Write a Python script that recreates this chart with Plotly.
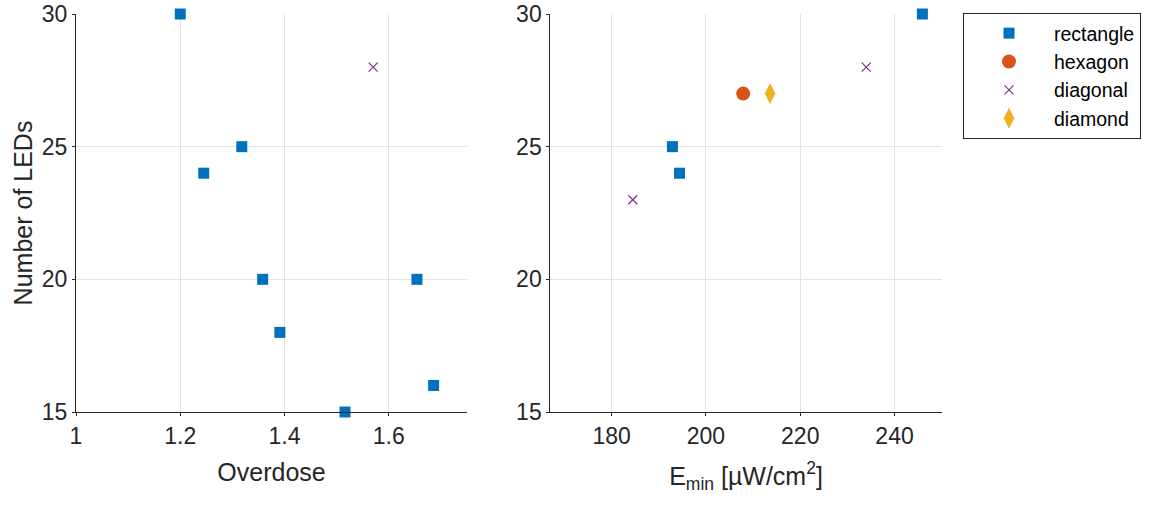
import plotly.graph_objects as go

# ---- data ----
rect_overdose = [1.200, 1.245, 1.318, 1.358, 1.391, 1.516, 1.654, 1.686]
rect_leds_left = [30, 24, 25, 20, 18, 15, 20, 16]
diag_overdose = [1.570]
diag_leds_left = [28]

rect_emin = [192.9, 194.4, 245.9]
rect_leds_right = [25, 24, 30]
hex_emin = [207.9]
hex_leds = [27]
diag_emin = [184.5, 234.0]
diag_leds_right = [23, 28]
diam_emin = [213.6]
diam_leds = [27]

x1_ticks = [1, 1.2, 1.4, 1.6]
x2_ticks = [180, 200, 220, 240]
y_ticks = [15, 20, 25, 30]

C_RECT = "#0072BD"
C_HEX = "#D95319"
C_DIAG = "#7E2F8E"
C_DIAM = "#EDB120"

FONT = "Liberation Sans, Arial, Helvetica, sans-serif"
TXT = "#262626"

fig = go.Figure()

sq = dict(symbol="square", size=11, color=C_RECT)
xm = dict(symbol="x-thin-open", size=9, color=C_DIAG, line=dict(width=1.2, color=C_DIAG))

fig.add_trace(go.Scatter(x=rect_overdose, y=rect_leds_left, mode="markers", marker=sq,
                         showlegend=False, xaxis="x", yaxis="y", cliponaxis=False))
fig.add_trace(go.Scatter(x=diag_overdose, y=diag_leds_left, mode="markers", marker=xm,
                         showlegend=False, xaxis="x", yaxis="y", cliponaxis=False))

fig.add_trace(go.Scatter(x=rect_emin, y=rect_leds_right, mode="markers", marker=sq,
                         name="rectangle", xaxis="x2", yaxis="y2", cliponaxis=False))
fig.add_trace(go.Scatter(x=hex_emin, y=hex_leds, mode="markers",
                         marker=dict(symbol="circle", size=14, color=C_HEX),
                         name="hexagon", xaxis="x2", yaxis="y2", cliponaxis=False))
fig.add_trace(go.Scatter(x=diag_emin, y=diag_leds_right, mode="markers", marker=xm,
                         name="diagonal", xaxis="x2", yaxis="y2", cliponaxis=False))
fig.add_trace(go.Scatter(x=diam_emin, y=diam_leds, mode="markers",
                         marker=dict(symbol="diamond-tall", size=15, color=C_DIAM),
                         name="diamond", xaxis="x2", yaxis="y2", cliponaxis=False))

W, H = 1153, 506
ytop = 1 - 14 / H
ybot = 1 - 412 / H

axis_common = dict(
    showgrid=True, gridcolor="#e3e3e3", gridwidth=1,
    showline=True, linecolor=TXT, linewidth=1,
    ticks="outside", ticklen=3, tickcolor=TXT,
    tickfont=dict(family=FONT, size=23, color=TXT),
    zeroline=False, mirror=False, automargin=False,
)

fig.update_layout(
    width=W, height=H,
    margin=dict(l=0, r=0, t=0, b=0),
    paper_bgcolor="white", plot_bgcolor="white",
    font=dict(family=FONT, color=TXT),
    xaxis=dict(domain=[76 / W, 467 / W], range=[1, 1.75], tickvals=x1_ticks,
               ticktext=["1", "1.2", "1.4", "1.6"],
               title=dict(text="Overdose", font=dict(family=FONT, size=25, color=TXT), standoff=15),
               anchor="y", **axis_common),
    yaxis=dict(domain=[ybot, ytop], range=[15, 30], tickvals=y_ticks,
               title=dict(text="Number of LEDs", font=dict(family=FONT, size=25, color=TXT), standoff=2),
               anchor="x", **axis_common),
    xaxis2=dict(domain=[550.3 / W, 941.7 / W], range=[167, 250], tickvals=x2_ticks,
                title=dict(text="E<sub>min</sub> [µW/cm<sup>2</sup>]",
                           font=dict(family=FONT, size=25, color=TXT), standoff=19),
                anchor="y2", **axis_common),
    yaxis2=dict(domain=[ybot, ytop], range=[15, 30], tickvals=y_ticks,
                anchor="x2", **axis_common),
    legend=dict(x=963 / W, y=1 - 13 / H, xanchor="left", yanchor="top",
                bordercolor="#262626", borderwidth=1, bgcolor="white",
                font=dict(family=FONT, size=19.5, color="#000000"),
                itemwidth=80, tracegroupgap=0),
)

fig.write_html("out.html")
